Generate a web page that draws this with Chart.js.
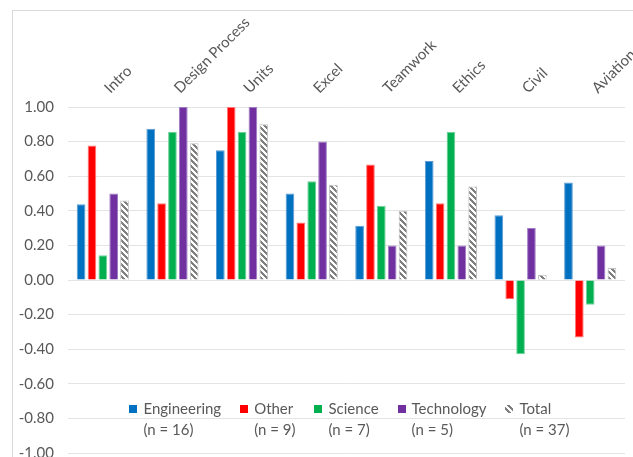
<!DOCTYPE html>
<html>
<head>
<meta charset="utf-8">
<script src="https://cdn.jsdelivr.net/npm/chart.js@4.4.1/dist/chart.umd.min.js"></script>
<style>
  html, body { margin: 0; padding: 0; background: #fff; overflow: hidden; }
  body { width: 633px; height: 457px; position: relative; }
  #chart { position: absolute; left: 0; top: 0; }
  /* excel chart-area frame, only the top/left edges are visible in the crop */
  #frame { position: absolute; left: 12px; top: 10px; width: 700px; height: 500px;
           border-left: 1px solid #d9d9d9; border-top: 1px solid #d9d9d9; pointer-events: none; }
</style>
</head>
<body>
<canvas id="chart" width="660" height="476"></canvas>
<div id="frame"></div>
<script>
// data
const categories = ['Intro', 'Design Process', 'Units', 'Excel', 'Teamwork', 'Ethics', 'Civil', 'Aviation'];
const seriesNames = ['Engineering', 'Other', 'Science', 'Technology', 'Total'];
const seriesCounts = ['(n = 16)', '(n = 9)', '(n = 7)', '(n = 5)', '(n = 37)'];

const engineering = [0.438, 0.875, 0.75, 0.50, 0.313, 0.688, 0.375, 0.563];
const other       = [0.778, 0.444, 1.00, 0.333, 0.667, 0.444, -0.111, -0.333];
const science     = [0.143, 0.857, 0.857, 0.571, 0.429, 0.857, -0.429, -0.143];
const technology  = [0.50, 1.00, 1.00, 0.80, 0.20, 0.20, 0.30, 0.20];
const total       = [0.46, 0.79, 0.90, 0.55, 0.40, 0.54, 0.03, 0.07];

const yTicks = { min: -1, max: 1, step: 0.2 };

const colors = ['#0070C0', '#FF0000', '#00B050', '#7030A0'];
const edgeColors = ['#5b9bd5', '#ff7a7a', '#6fd29a', '#a07cc5'];
const textColor = '#595959';
const fontFamily = 'Lato, "Open Sans", sans-serif';

document.addEventListener('DOMContentLoaded', () => {
    const canvas = document.getElementById('chart');
    const ctx = canvas.getContext('2d');

    // gray "wide downward diagonal" hatch like excel
    function makeHatch() {
        const c = document.createElement('canvas');
        c.width = 6; c.height = 6;
        const g = c.getContext('2d');
        g.fillStyle = '#ffffff';
        g.fillRect(0, 0, 6, 6);
        g.fillStyle = '#7f7f7f';
        for (let r = 0; r < 6; r++) {
            for (let k = 0; k < 3; k++) g.fillRect((r + k) % 6, r, 1, 1);
        }
        return ctx.createPattern(c, 'repeat');
    }
    const hatch = makeHatch();

    const seriesValues = [engineering, other, science, technology, total];
    const fills = [...colors, hatch];
    const edges = [...edgeColors, '#bfbfbf'];

    // two-line legend sitting inside the plot, near the bottom
    const twoLineLegend = {
        id: 'twoLineLegend',
        afterDraw(chart) {
            const { chartArea } = chart;
            const c = chart.ctx;
            c.save();
            c.font = '15px ' + fontFamily;
            c.textBaseline = 'middle';
            c.textAlign = 'left';
            const box = 8, gapText = 6, gapItem = 19;
            const widths = seriesNames.map((n, i) =>
                Math.max(c.measureText(n).width, c.measureText(seriesCounts[i]).width));
            const full = widths.reduce((a, w) => a + box + gapText + w, 0) + gapItem * (widths.length - 1);
            let x = (chartArea.left + chartArea.right) / 2 - full / 2 + 3;
            const y1 = chartArea.bottom - 44;
            const y2 = y1 + 21;
            seriesNames.forEach((name, i) => {
                c.fillStyle = fills[i];
                c.fillRect(Math.round(x), Math.round(y1 - box / 2), box, box);
                c.fillStyle = textColor;
                c.fillText(name, x + box + gapText, y1);
                c.fillText(seriesCounts[i], x + box + gapText, y2);
                x += box + gapText + widths[i] + gapItem;
            });
            c.restore();
        }
    };

    new Chart(canvas, {
        type: 'bar',
        data: {
            labels: categories,
            datasets: seriesNames.map((name, i) => ({
                label: name,
                data: seriesValues[i],
                backgroundColor: fills[i],
                borderColor: edges[i],
                borderWidth: 1,
                categoryPercentage: 0.78,
                barPercentage: 0.8
            }))
        },
        options: {
            responsive: false,
            animation: false,
            layout: { padding: { left: 0, top: 0, right: 35, bottom: 12 } },
            plugins: {
                legend: { display: false },
                tooltip: { enabled: false }
            },
            scales: {
                x: {
                    position: 'top',
                    grid: { display: false },
                    border: { display: false },
                    ticks: {
                        color: textColor,
                        font: { family: fontFamily, size: 15 },
                        autoSkip: false,
                        minRotation: 45,
                        maxRotation: 45,
                        padding: 2,
                        labelOffset: 17
                    },
                    afterFit: (scale) => { scale.height = 107; }
                },
                y: {
                    min: yTicks.min,
                    max: yTicks.max,
                    grid: { color: '#e4e4e4', drawTicks: false },
                    border: { display: false },
                    ticks: {
                        stepSize: yTicks.step,
                        color: textColor,
                        font: { family: fontFamily, size: 15 },
                        padding: 14,
                        callback: (v) => Number(v).toFixed(2)
                    },
                    afterFit: (scale) => { scale.width = 68; }
                }
            }
        },
        plugins: [twoLineLegend]
    });
});
</script>
</body>
</html>
